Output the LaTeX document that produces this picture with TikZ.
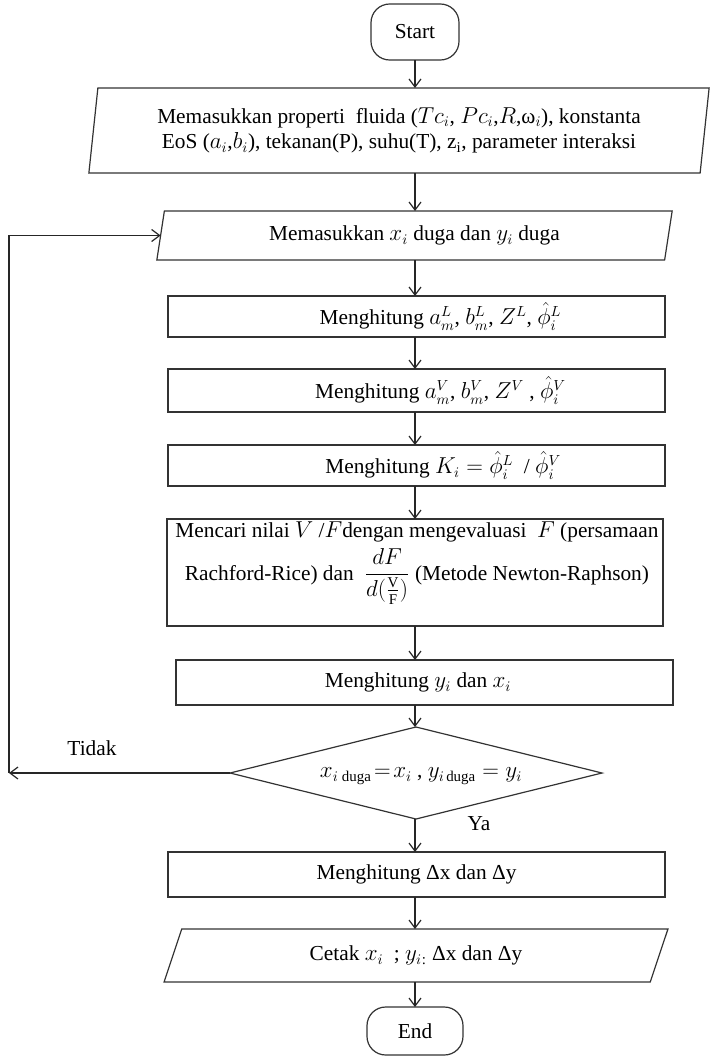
\documentclass[tikz,border=0pt]{standalone}
\usepackage{amsmath}
\usepackage{fontspec}
\setmainfont{Liberation Serif}
\usetikzlibrary{shapes.geometric,arrows.meta}
\newdimen\pxu \pxu=0.75pt
\begin{document}
\begin{tikzpicture}[x=0.75pt,y=-0.75pt,
  font=\fontsize{16}{19}\selectfont,
  line width=0.9pt,
  every node/.style={outer sep=0pt},
  procbox/.style={draw=black!80, rectangle, inner sep=0pt},
  term/.style={draw=black!80, rectangle, rounded corners=14pt, inner sep=0pt},
  iobox/.style={draw=black!80, trapezium, trapezium stretches=true, inner sep=0pt, align=center},
  decision/.style={draw=black!80, diamond, inner sep=0pt},
  arr/.style={draw=black!85, -{Straight Barb[length=6pt,width=9pt]}},
  lbl/.style={inner sep=0pt}]
\useasboundingbox (0,0) rectangle (711,1057);
\coordinate (ax) at (415,0);

% terminals, inputs and steps, top to bottom
\node[term, minimum width=88\pxu, minimum height=56\pxu] (start) at (415,32) {Start};

\node[iobox, trapezium left angle=81, trapezium right angle=99,
      minimum width=622\pxu, minimum height=85\pxu] (in1) at (399,130.5)
  {Memasukkan properti\ \ fluida ($Tc_i$, $Pc_i$,$R$,ω$_i$), konstanta\\
   EoS ($a_i$,$b_i$), tekanan(P), suhu(T), z\textsubscript{i}, parameter interaksi};

\node[iobox, trapezium left angle=77.3, trapezium right angle=102.7,
      minimum width=517\pxu, minimum height=49\pxu] (in2) at (414.5,235.5)
  {Memasukkan $x_i$ duga dan $y_i$ duga};

\node[procbox, minimum width=497\pxu, minimum height=41\pxu] (liq) at (416.5,316.5) {};
\node[lbl] (liqt) at ([xshift=18]liq.center) {Menghitung $a_m^L$, $b_m^L$, $Z^L$, $\hat{\phi}_i^L$};

\node[procbox, minimum width=497\pxu, minimum height=43\pxu] (vap) at (416.5,390.5) {};
\node[lbl] (vapt) at ([xshift=18]vap.center) {Menghitung $a_m^V$, $b_m^V$, $Z^V$ , $\hat{\phi}_i^V$};

\node[procbox, minimum width=497\pxu, minimum height=41\pxu] (kval) at (416.5,465.5) {};
\node[lbl] (kvalt) at ([xshift=20]kval.center) {Menghitung $K_i = \hat{\phi}_i^L$\ \ / $\hat{\phi}_i^V$};

\node[procbox, minimum width=496\pxu, minimum height=107\pxu] (vf) at (415,572.5) {};
\node[lbl, align=center] (vft) at (417,563)
  {Mencari nilai $V$ /$F$dengan mengevaluasi\ \ $F$ (persamaan\\[4pt]
   Rachford-Rice) dan\ \ $\dfrac{dF}{d(\frac{\mathrm{V}}{\mathrm{F}})}$ (Metode Newton-Raphson)};

\node[procbox, minimum width=497\pxu, minimum height=45\pxu] (yx) at (424.5,682.5) {};
\node[lbl] (yxt) at (418,682.5) {Menghitung $y_i$ dan $x_i$};

\node[decision, minimum width=372\pxu, minimum height=92\pxu] (dec) at (416,773) {};
\node[lbl] (dect) at (421,776)
  {$x_{i\;\text{duga}}\!=\!x_i$ , $y_{i\,\text{duga}} = y_i$};

\node[procbox, minimum width=497\pxu, minimum height=45\pxu] (dlt) at (416.5,874.5)
  {Menghitung Δx dan Δy};

\node[iobox, trapezium left angle=67.5, trapezium right angle=112.5,
      minimum width=504\pxu, minimum height=53\pxu] (out) at (416,955.5)
  {Cetak $x_i$\ \ ; $y_i$\textsubscript{:} Δx dan Δy};

\node[term, minimum width=96\pxu, minimum height=48\pxu] (end) at (415,1031) {End};

% main flow
\draw[arr] (start.south) -- (start.south |- in1.north);
\draw[arr] (in1.south -| ax) -- (in2.north -| ax);
\draw[arr] (in2.south -| ax) -- (liq.north -| ax);
\draw[arr] (liq.south -| ax) -- (vap.north -| ax);
\draw[arr] (vap.south -| ax) -- (kval.north -| ax);
\draw[arr] (kval.south -| ax) -- (vf.north -| ax);
\draw[arr] (vf.south -| ax) -- (yx.north -| ax);
\draw[arr] (yx.south -| ax) -- (dec.north -| ax);
\draw[arr] (dec.south -| ax) -- (dlt.north -| ax);
\draw[arr] (dlt.south -| ax) -- (out.north -| ax);
\draw[arr] (out.south -| ax) -- (end.north -| ax);

% loop back when the guesses differ
\coordinate (fbB) at (9,773);
\draw[arr] (dec.west) -- (fbB);
\draw[arr] (fbB) -- (fbB |- in2.left side) -- (in2.left side);

\node[lbl] (no) at (92,748) {Tidak};
\node[lbl] (yes) at (479,824) {Ya};
\end{tikzpicture}
\end{document}
